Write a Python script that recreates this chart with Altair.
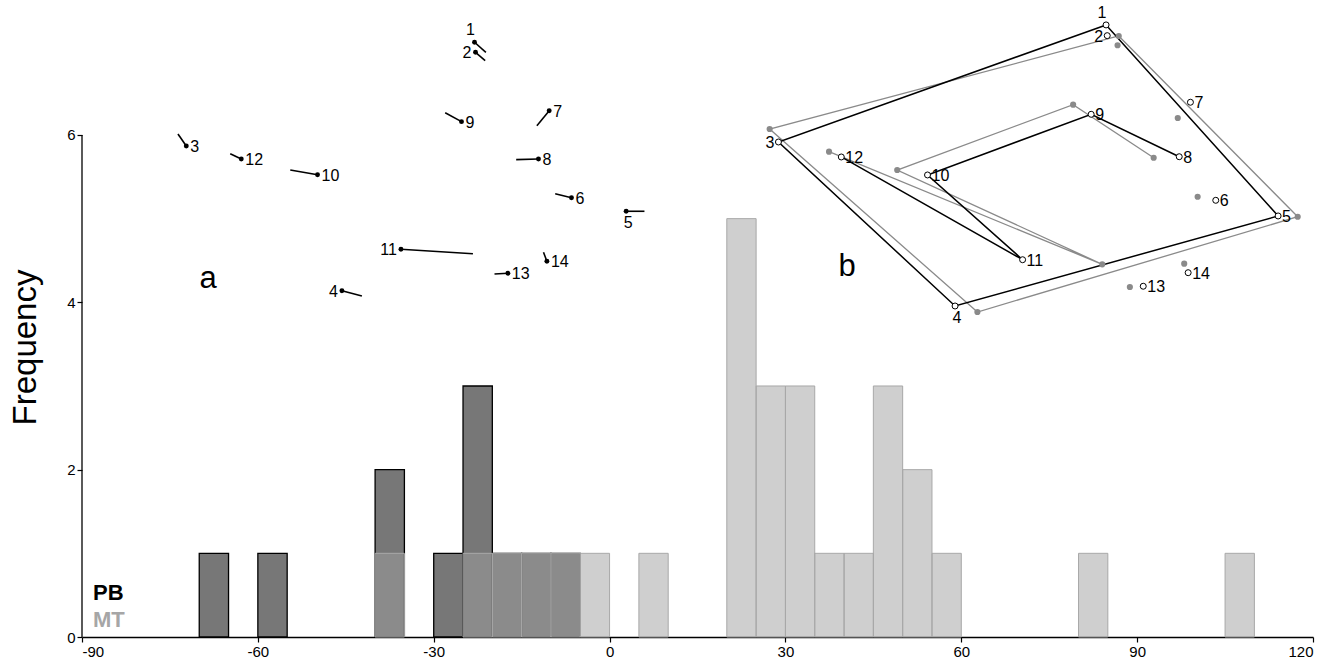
import altair as alt
import pandas as pd

# ---------------- histogram data (bin width 5) ----------------
pb_bin_start = [-70, -60, -40, -30, -25, -20, -15, -10]
pb_count = [1, 1, 2, 1, 3, 1, 1, 1]
mt_bin_start = [-40, -25, -20, -15, -10, -5, 5, 20, 25, 30, 35, 40, 45, 50, 55, 80, 105]
mt_count = [1, 1, 1, 1, 1, 1, 1, 5, 3, 3, 1, 1, 3, 2, 1, 1, 1]
bin_width = 5
x_ticks = [-90, -60, -30, 0, 30, 60, 90, 120]
y_ticks = [0, 2, 4, 6]

# ---------------- inset a: landmark vectors ----------------
landmarks = list(range(1, 15))
a_x = [-23.04, -22.87, -72.21, -45.66, 2.83, -6.50, -10.30, -12.13, -25.26, -49.82, -35.59, -62.83, -17.35, -10.69]
a_y = [7.108, 6.988, 5.868, 4.139, 5.088, 5.250, 6.290, 5.713, 6.159, 5.525, 4.634, 5.713, 4.347, 4.490]
a_end_x = [-21.10, -21.22, -73.63, -42.25, 5.95, -9.28, -12.40, -15.93, -28.04, -54.47, -23.31, -64.71, -19.63, -11.27]
a_end_y = [6.988, 6.888, 6.012, 4.076, 5.088, 5.298, 6.111, 5.705, 6.266, 5.581, 4.581, 5.776, 4.338, 4.598]
a_side = ["top", "left", "right", "left", "bottom", "right", "right", "right", "right", "right",
          "left", "right", "right", "right"]

# ---------------- inset b: two landmark configurations ----------------
b_black_x = [84.70, 84.90, 28.81, 58.94, 114.05, 103.41, 99.09, 97.18, 82.16, 54.24, 70.46, 39.53, 91.04, 98.70]
b_black_y = [7.315, 7.187, 5.916, 3.956, 5.032, 5.219, 6.391, 5.740, 6.247, 5.522, 4.509, 5.737, 4.192, 4.354]
b_grey_x = [86.86, 86.66, 27.31, 62.75, 117.39, 100.32, 96.93, 92.82, 79.08, 49.07, 84.05, 37.44, 88.76, 98.03]
b_grey_y = [7.183, 7.072, 6.071, 3.884, 5.023, 5.262, 6.203, 5.728, 6.362, 5.581, 4.454, 5.800, 4.183, 4.462]
b_side = ["top", "left", "left", "bottom", "right", "right", "right", "right", "right", "right",
          "right", "right", "right", "right"]
outline_path = [1, 3, 4, 5, 1]
inner_path = [12, 11, 10, 9, 8]

# ---------------- tables ----------------
pb_df = pd.DataFrame({"start": pb_bin_start, "count": pb_count})
mt_df = pd.DataFrame({"start": mt_bin_start, "count": mt_count})
a_df = pd.DataFrame({"id": landmarks, "x": a_x, "y": a_y, "x2": a_end_x, "y2": a_end_y})

rows = []
for cfg, xs_, ys_ in (("black", b_black_x, b_black_y), ("grey", b_grey_x, b_grey_y)):
    for pname, path in (("outline", outline_path), ("inner", inner_path)):
        for k, lm in enumerate(path):
            rows.append({"cfg": cfg, "path": pname, "seq": k, "x": xs_[lm - 1], "y": ys_[lm - 1]})
path_df = pd.DataFrame(rows)
bb_df = pd.DataFrame({"id": landmarks, "x": b_black_x, "y": b_black_y})
bg_df = pd.DataFrame({"id": landmarks, "x": b_grey_x, "y": b_grey_y})

lab_rows = []
for i in range(14):
    lab_rows.append({"label": str(i + 1), "x": a_x[i], "y": a_y[i], "side": a_side[i]})
    lab_rows.append({"label": str(i + 1), "x": b_black_x[i], "y": b_black_y[i], "side": b_side[i]})
lab_df = pd.DataFrame(lab_rows)

FONT = "Liberation Sans"
xs = alt.Scale(domain=[-90, 120], nice=False, zero=False)
ys = alt.Scale(domain=[0, 7.613], nice=False, zero=False)

x_axis = alt.Axis(values=x_ticks, labelExpr="'' + datum.value", title=None, grid=False)
y_axis = alt.Axis(values=y_ticks, title="Frequency", grid=False, domain=False,
                  titleAngle=-90, titleX=-57, titleY=347, titleAlign="center", titleBaseline="middle")


def X(field):
    return alt.X(field, scale=xs, axis=x_axis)


def Y(field):
    return alt.Y(field, scale=ys, axis=y_axis)


pb = alt.Chart(pb_df).transform_calculate(end=f"datum.start + {bin_width}").mark_rect(
    fill="#777777", stroke="black", strokeWidth=1.3
).encode(x=X("start:Q"), x2="end:Q", y=Y("count:Q"), y2=alt.datum(0))

mt = alt.Chart(mt_df).transform_calculate(end=f"datum.start + {bin_width}").mark_rect(
    fill="#a0a0a0", fillOpacity=0.5, stroke="#a8a8a8", strokeWidth=1
).encode(x=X("start:Q"), x2="end:Q", y=Y("count:Q"), y2=alt.datum(0))

y_line = alt.Chart(pd.DataFrame({"x": [-90], "y": [0], "y2": [6]})).mark_rule(
    color="black", strokeWidth=1.3
).encode(x=X("x:Q"), y=Y("y:Q"), y2="y2:Q")

# inset a
a_vec = alt.Chart(a_df).mark_rule(color="black", strokeWidth=1.6).encode(
    x=X("x:Q"), y=Y("y:Q"), x2="x2:Q", y2="y2:Q"
)
a_pts = alt.Chart(a_df).mark_circle(color="black", size=24, opacity=1).encode(x=X("x:Q"), y=Y("y:Q"))

# inset b
grey_lines = alt.Chart(path_df).transform_filter("datum.cfg == 'grey'").mark_line(
    color="#8a8a8a", strokeWidth=1.3
).encode(x=X("x:Q"), y=Y("y:Q"), detail="path:N", order="seq:Q")
black_lines = alt.Chart(path_df).transform_filter("datum.cfg == 'black'").mark_line(
    color="black", strokeWidth=1.5
).encode(x=X("x:Q"), y=Y("y:Q"), detail="path:N", order="seq:Q")
grey_pts = alt.Chart(bg_df).mark_circle(color="#8a8a8a", size=38, opacity=1).encode(x=X("x:Q"), y=Y("y:Q"))
black_pts = alt.Chart(bb_df).mark_point(
    shape="circle", fill="white", fillOpacity=1, stroke="black", strokeWidth=1, size=36, opacity=1
).encode(x=X("x:Q"), y=Y("y:Q"))

# landmark labels
side_style = {
    "top": dict(align="center", baseline="bottom", dx=-4, dy=-4),
    "bottom": dict(align="center", baseline="top", dx=2, dy=4),
    "left": dict(align="right", baseline="middle", dx=-4, dy=1),
    "right": dict(align="left", baseline="middle", dx=4, dy=1),
}
label_layers = []
for side, st in side_style.items():
    label_layers.append(
        alt.Chart(lab_df).transform_filter(f"datum.side == '{side}'").mark_text(
            font=FONT, fontSize=16, color="black", **st
        ).encode(x=X("x:Q"), y=Y("y:Q"), text="label:N")
    )

# legend texts and panel letters
ann = pd.DataFrame({"v": [0]})
pb_txt = alt.Chart(ann).mark_text(text="PB", font=FONT, fontSize=22, fontWeight="bold", color="black",
                                  align="left", baseline="alphabetic").encode(
    x=alt.value(11), y=alt.value(600))
mt_txt = alt.Chart(ann).mark_text(text="MT", font=FONT, fontSize=22, fontWeight="bold", color="#a6a6a6",
                                  align="left", baseline="alphabetic").encode(
    x=alt.value(11), y=alt.value(627))
a_txt = alt.Chart(ann).mark_text(text="a", font=FONT, fontSize=31, color="black",
                                 align="center", baseline="alphabetic").encode(
    x=alt.value(126), y=alt.value(288))
b_txt = alt.Chart(ann).mark_text(text="b", font=FONT, fontSize=31, color="black",
                                 align="center", baseline="alphabetic").encode(
    x=alt.value(765), y=alt.value(276))

chart = alt.layer(
    pb, mt, y_line, a_vec, a_pts, grey_lines, black_lines, grey_pts, black_pts,
    *label_layers, pb_txt, mt_txt, a_txt, b_txt
).properties(
    width=1231, height=637,
    autosize=alt.AutoSizeParams(type="none"),
    padding={"left": 82, "top": 0, "right": 28, "bottom": 26},
    background="white",
).configure_view(stroke=None).configure_axis(
    labelFont=FONT, labelFontSize=15, labelColor="black", labelPadding=2,
    tickColor="black", tickSize=5, tickWidth=1.2,
    domainColor="black", domainWidth=1.3,
    titleFont=FONT, titleFontSize=33, titleFontWeight="normal", titleColor="black",
)

chart.save("out.html", embed_options={"renderer": "svg", "actions": False})
